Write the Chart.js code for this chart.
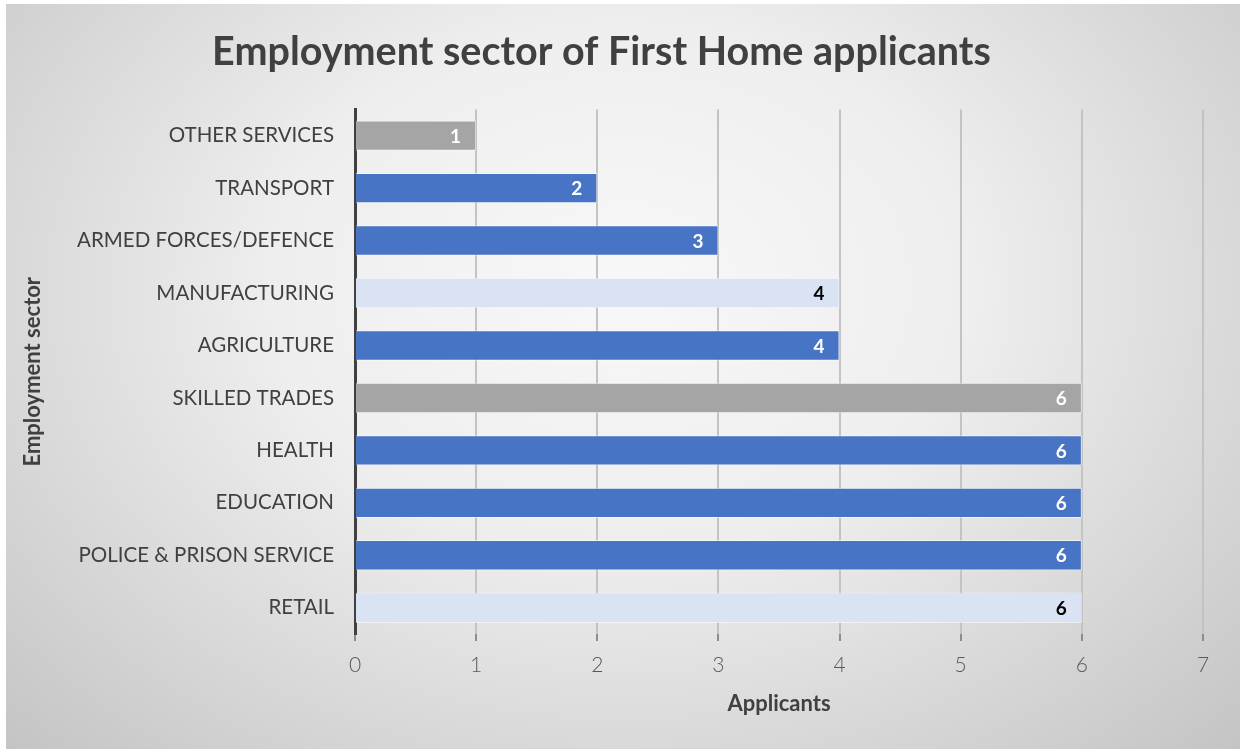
<!DOCTYPE html>
<html>
<head>
<meta charset="utf-8">
<script src="https://cdn.jsdelivr.net/npm/chart.js@4.4.0/dist/chart.umd.min.js"></script>
<style>
  html, body { margin: 0; padding: 0; background: #fff; }
  #frame {
    position: absolute; left: 6px; top: 4px; width: 1234px; height: 745px;
    background: radial-gradient(ellipse farthest-corner at 50% 38%, #f8f8f8 0%, #eeeeee 40%, #c4c4c4 100%);
  }
  #wrap { position: absolute; left: 0; top: 0; width: 1248px; height: 749px; }
</style>
</head>
<body>
<div id="frame"></div>
<div id="wrap"><canvas id="grafica"></canvas></div>
<script>
// datos
const sectores = ['OTHER SERVICES', 'TRANSPORT', 'ARMED FORCES/DEFENCE', 'MANUFACTURING', 'AGRICULTURE',
  'SKILLED TRADES', 'HEALTH', 'EDUCATION', 'POLICE & PRISON SERVICE', 'RETAIL'];
const solicitantes = [1, 2, 3, 4, 4, 6, 6, 6, 6, 6];
const xTicks = [0, 1, 2, 3, 4, 5, 6, 7];

const AZUL = '#4874C6', GRIS = '#A5A5A5', CLARO = '#DAE3F3';
const coloresBarra = [GRIS, AZUL, AZUL, CLARO, AZUL, GRIS, AZUL, AZUL, AZUL, CLARO];
const coloresTexto = coloresBarra.map(c => c === CLARO ? '#000000' : '#ffffff');

const FUENTE = "Lato, 'Open Sans', sans-serif";

// etiquetas dentro del final de cada barra
const etiquetasBarras = {
  id: 'etiquetasBarras',
  afterDatasetsDraw(chart) {
    const ctx = chart.ctx;
    const meta = chart.getDatasetMeta(0);
    ctx.save();
    ctx.font = 'bold 19px ' + FUENTE;
    ctx.textAlign = 'right';
    ctx.textBaseline = 'middle';
    meta.data.forEach((bar, i) => {
      ctx.fillStyle = coloresTexto[i];
      ctx.fillText(String(solicitantes[i]), bar.x - 15, bar.y + 1);
    });
    ctx.restore();
  }
};

new Chart(document.getElementById('grafica'), {
  type: 'bar',
  data: {
    labels: sectores,
    datasets: [{
      data: solicitantes,
      backgroundColor: coloresBarra,
      borderColor: 'rgba(255,255,255,0.55)',
      borderWidth: 1,
      borderSkipped: 'start',
      barPercentage: 0.58,
      categoryPercentage: 1
    }]
  },
  options: {
    indexAxis: 'y',
    responsive: true,
    maintainAspectRatio: false,
    animation: false,
    layout: { padding: { left: 0, right: 45, top: 25, bottom: 0 } },
    plugins: {
      legend: { display: false },
      tooltip: { enabled: false },
      title: {
        display: true,
        text: 'Employment sector of First Home applicants',
        color: '#404040',
        font: { family: FUENTE, size: 39.5, weight: 'bold', lineHeight: 1.2 },
        padding: { top: 4, bottom: 33 }
      }
    },
    scales: {
      x: {
        min: 0, max: 7,
        afterBuildTicks(scale) { scale.ticks = xTicks.map(v => ({ value: v })); },
        afterFit(scale) { scale.height = 115; },
        grid: { color: '#c3c3c3', lineWidth: 2, tickColor: '#8c8c8c', tickLength: 7, drawOnChartArea: true },
        border: { display: false },
        ticks: { color: '#595959', padding: 12, font: { family: FUENTE, size: 21, weight: '300' } },
        title: {
          display: true, text: 'Applicants', color: '#404040',
          font: { family: FUENTE, size: 22, weight: 'bold', lineHeight: 1.2 },
          padding: { top: 0, bottom: 32 }
        }
      },
      y: {
        afterFit(scale) { scale.width = 355; },
        grid: { display: false, drawTicks: false },
        border: { display: true, color: '#404040', width: 3 },
        ticks: { color: '#404040', padding: 21, font: { family: FUENTE, size: 20.5 } },
        title: {
          display: true, text: 'Employment sector', color: '#404040',
          font: { family: FUENTE, size: 22, weight: 'bold', lineHeight: 1.2 },
          padding: { top: 20, bottom: 0 }
        }
      }
    }
  },
  plugins: [etiquetasBarras]
});
</script>
</body>
</html>
